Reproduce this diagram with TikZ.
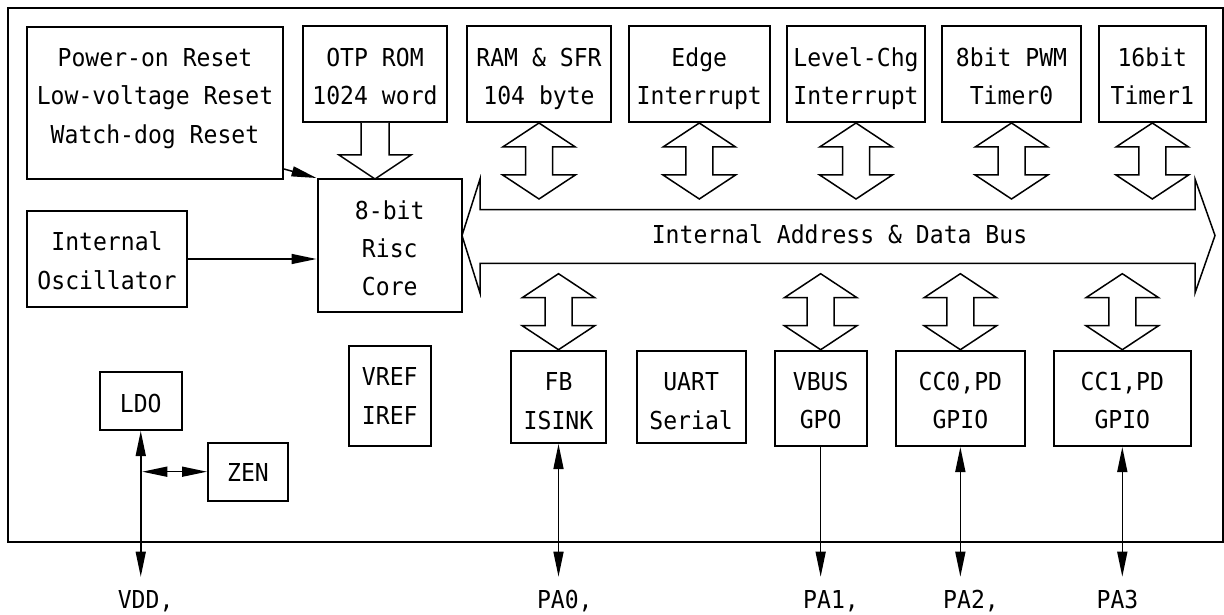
\documentclass[tikz,border=0pt]{standalone}
\usepackage{fontspec}
\newfontfamily\gfont{DejaVu Sans Mono}[FakeStretch=0.935]
\usetikzlibrary{arrows.meta,calc}
\newcommand\zS{\rule[-10.15pt]{0pt}{38.3pt}}
\newcommand\zU[1]{\rule[-10.15pt]{0pt}{\dimexpr 38.3pt+#1pt\relax}}
\newcommand\zD{\rule[-24.15pt]{0pt}{52.3pt}}
\tikzset{
  every node/.append style={font=\gfont\fontsize{24.7pt}{38.3pt}\selectfont, inner sep=0pt},
  box/.style={draw, line width=2pt, align=center, fill=white},
  blk/.style={draw, line width=1.5pt, fill=white, line join=miter},
  tipA/.tip={Triangle[length=25pt,width=10pt]},
  arr/.style={-tipA, line width=1.5pt},
  dblarr/.style={tipA-tipA, line width=1.5pt},
  vdbl/.pic={\draw[blk] (0,0) -- (36.3,24) -- (13.5,24) -- (13.5,52) -- (36.3,52) -- (0,76)
                -- (-36.3,52) -- (-13.5,52) -- (-13.5,24) -- (-36.3,24) -- cycle;},
  vdown/.pic={\draw[blk] (-14,0) -- (-14,32) -- (-36,32) -- (0,56) -- (36,32) -- (14,32) -- (14,0);}
}
\begin{document}
\begin{tikzpicture}[x=1pt,y=-1pt]
\useasboundingbox (0,0) rectangle (1224,615);
% chip outline
\node[draw, line width=2pt, minimum width=1215pt, minimum height=534pt] (chip) at (615,274.7) {};

% top row
\node[box, minimum width=256pt, minimum height=152pt] (reset) at (155,103)
  {\zS Power-on Reset\\\zS Low-voltage Reset\\\zD Watch-dog Reset};
\node[box, minimum width=144pt, minimum height=95.5pt] (otp) at (375,74.25) {\zU{4}OTP ROM\\\zS 1024 word};
\node[box, minimum width=144pt, minimum height=95.5pt] (ram) at (539,74.25) {\zU{4}RAM \& SFR\\\zS 104 byte};
\node[box, minimum width=141.4pt, minimum height=95.5pt] (edge) at (699.3,74.25) {\zU{4}Edge\\\zS Interrupt};
\node[box, minimum width=138pt, minimum height=95.5pt] (level) at (856,74.25) {\zU{4}Level-Chg\\\zS Interrupt};
\node[box, minimum width=139pt, minimum height=95.5pt] (pwm) at (1011.5,74.25) {\zU{4}8bit PWM\\\zS Timer0};
\node[box, minimum width=107.4pt, minimum height=95.5pt] (t16) at (1152.3,74.25) {\zU{4}16bit\\\zS Timer1};

% core and oscillator
\node[box, minimum width=144.5pt, minimum height=133pt] (core) at (389.75,245.5) {\zU{6}8-bit\\\zS Risc\\\zS Core};
\node[box, minimum width=160pt, minimum height=96pt] (osc) at (107,259) {\zU{4}Internal\\\zS Oscillator};

% bottom row
\node[box, minimum width=81.5pt, minimum height=58.3pt] (ldo) at (140.75,400.85) {\zU{6}LDO};
\node[box, minimum width=80pt, minimum height=58pt] (zen) at (248,471.7) {\zU{2}ZEN};
\node[box, minimum width=81.6pt, minimum height=100pt] (vref) at (389.8,396) {\zS VREF\\\zS IREF};
\node[box, minimum width=95pt, minimum height=92.3pt] (fb) at (558.5,396.85) {\zU{8}FB\\\zS ISINK};
\node[box, minimum width=109pt, minimum height=92.3pt] (uart) at (691.1,396.85) {\zU{8}UART\\\zS Serial};
\node[box, minimum width=91.9pt, minimum height=95.3pt] (vbus) at (820.65,398.35) {\zU{4}VBUS\\\zS GPO};
\node[box, minimum width=129.3pt, minimum height=95.3pt] (cc0) at (960.35,398.35) {\zU{4}CC0,PD\\\zS GPIO};
\node[box, minimum width=137.4pt, minimum height=95.3pt] (cc1) at (1122.3,398.35) {\zU{4}CC1,PD\\\zS GPIO};

% internal bus
\draw[blk] (462,235.5) -- (480,179) -- (480,209.5) -- (1195,209.5) -- (1195,179) -- (1215,235.5)
  -- (1195,293) -- (1195,263.3) -- (480,263.3) -- (480,293) -- cycle;
\node (bus) at (839.5,234.5) {\zS Internal Address \& Data Bus};

% block arrows
\pic at (otp.south) {vdown};
\pic at (ram.south) {vdbl};
\pic at (edge.south) {vdbl};
\pic at (level.south) {vdbl};
\pic at (pwm.south) {vdbl};
\pic at (t16.south) {vdbl};
\pic at ($(fb.north)+(0,-76)$) {vdbl};
\pic at ($(vbus.north)+(0,-76)$) {vdbl};
\pic at ($(cc0.north)+(0,-76)$) {vdbl};
\pic at ($(cc1.north)+(0,-76)$) {vdbl};

% pins
\coordinate (pins) at (0,576.7);
\node[anchor=base west] (pvdd) at (117.6,608.3) {VDD,};
\node[anchor=base west] (ppa0) at (536.8,608.3) {PA0,};
\node[anchor=base west] (ppa1) at (803,608.3) {PA1,};
\node[anchor=base west] (ppa2) at (943,608.3) {PA2,};
\node[anchor=base west] (ppa3) at (1096.4,608.3) {PA3};

% thin connectors
\draw[arr] ($(reset.south east)+(0,-11)$) -- (core.north west);
\draw[arr] (osc.east) -- (osc.east -| core.west);
\draw[dblarr] (ldo.south) -- (ldo.south |- pins);
\draw[dblarr, shorten <=1.5pt] (ldo.south |- zen.west) -- (zen.west);
\draw[dblarr] (fb.south) -- (fb.south |- pins);
\draw[arr] (vbus.south) -- (vbus.south |- pins);
\draw[dblarr] (cc0.south) -- (cc0.south |- pins);
\draw[dblarr] (cc1.south) -- (cc1.south |- pins);
\end{tikzpicture}
\end{document}
